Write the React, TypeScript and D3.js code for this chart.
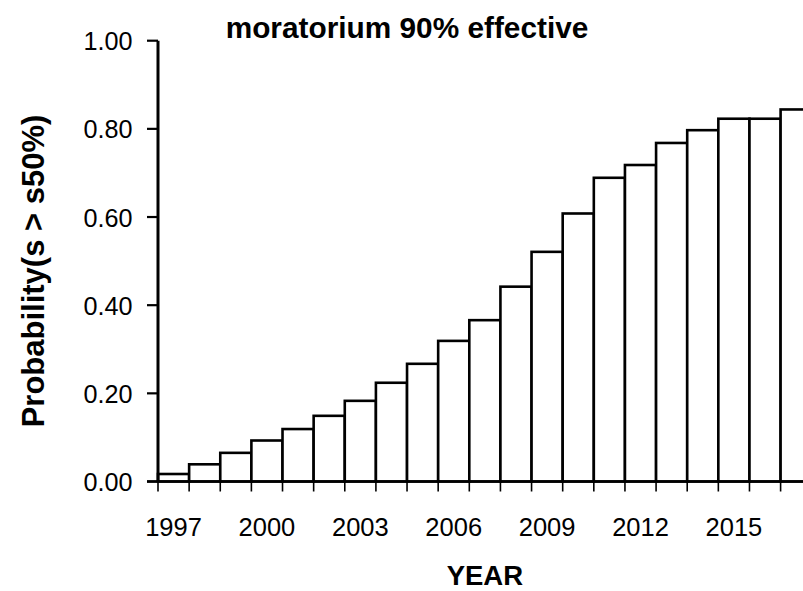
import React from "react";
import * as d3 from "d3";

const years = d3.range(1997, 2018);
const probs = [
  0.017, 0.039, 0.065, 0.093, 0.119, 0.149, 0.183, 0.224, 0.267, 0.319, 0.366,
  0.442, 0.521, 0.608, 0.689, 0.718, 0.768, 0.797, 0.823, 0.823, 0.844,
];
const yTicks = [0, 0.2, 0.4, 0.6, 0.8, 1.0];
const labelYears = [1997, 2000, 2003, 2006, 2009, 2012, 2015];

const W = 803;
const H = 591;
const left = 158;
const bw = 31.13;
const top = 40.7;
const bottom = 481.5;
const font = "'Liberation Sans', Arial, sans-serif";

export default function App() {
  const x = d3
    .scaleBand<number>()
    .domain(years)
    .range([left, left + bw * years.length])
    .padding(0);
  const y = d3.scaleLinear().domain([0, 1]).range([bottom, top]);
  const right = left + bw * years.length;

  // tick marks sit on every bar edge
  const edges = years.map((yr) => x(yr)!).concat([right]);

  return (
    <svg
      width={W}
      height={H}
      style={{ position: "absolute", left: 0, top: 0, background: "#fff" }}
      fontFamily={font}
    >
      <text x={407} y={38} textAnchor="middle" fontSize={29.8} fontWeight="bold">
        moratorium 90% effective
      </text>

      {years.map((yr, i) => (
        <rect
          key={yr}
          x={x(yr)}
          y={y(probs[i])}
          width={x.bandwidth()}
          height={bottom - y(probs[i])}
          fill="#fff"
          stroke="#000"
          strokeWidth={2.6}
        />
      ))}

      {/* y axis */}
      <line x1={left} x2={left} y1={top} y2={bottom} stroke="#000" strokeWidth={3} />
      {yTicks.map((t) => (
        <g key={t}>
          <line x1={left - 11} x2={left} y1={y(t)} y2={y(t)} stroke="#000" strokeWidth={2.2} />
          <text x={132.5} y={y(t) + 9.5} textAnchor="end" fontSize={25.2}>
            {t.toFixed(2)}
          </text>
        </g>
      ))}

      {/* x axis */}
      <line x1={left - 11} x2={right} y1={bottom} y2={bottom} stroke="#000" strokeWidth={2.4} />
      {edges.map((e, i) => (
        <line key={i} x1={e} x2={e} y1={bottom} y2={bottom + 10} stroke="#000" strokeWidth={1.6} />
      ))}
      {labelYears.map((yr) => (
        <text key={yr} x={x(yr)! + x.bandwidth() / 2} y={535.5} textAnchor="middle" fontSize={25.5}>
          {yr}
        </text>
      ))}

      <text x={(left + right) / 2} y={585} textAnchor="middle" fontSize={27.5} fontWeight="bold">
        YEAR
      </text>
      <text
        transform={`translate(44,271) rotate(-90)`}
        textAnchor="middle"
        fontSize={31}
        fontWeight="bold"
      >
        Probability(s &gt; s50%)
      </text>
    </svg>
  );
}
